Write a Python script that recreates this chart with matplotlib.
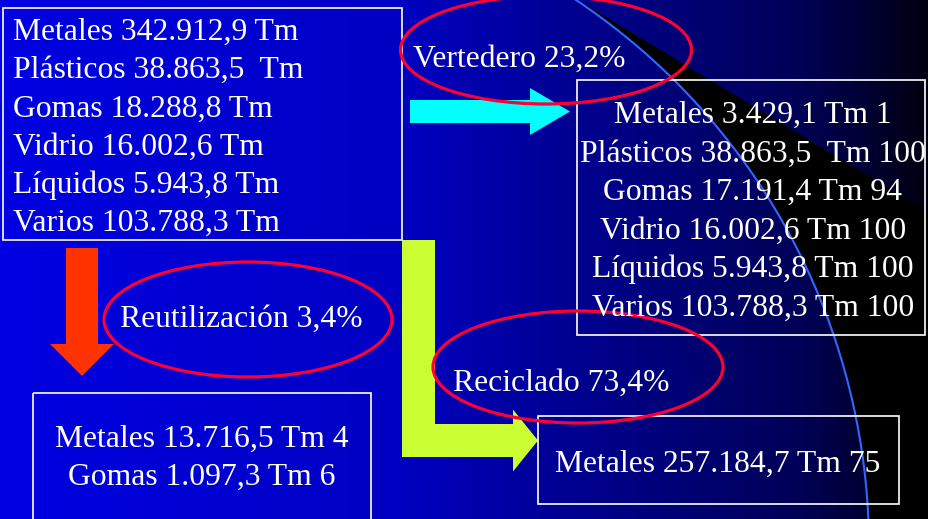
import numpy as np
import matplotlib
matplotlib.use("Agg")
import matplotlib.pyplot as plt
from matplotlib import patches

# toneladas por material
materials = ["Metales", "Plásticos", "Gomas", "Vidrio", "Líquidos", "Varios"]
total_tm = [342912.9, 38863.5, 18288.8, 16002.6, 5943.8, 103788.3]

vert_tm = [3429.1, 38863.5, 17191.4, 16002.6, 5943.8, 103788.3]
vert_pct = [1, 100, 94, 100, 100, 100]

reut_materials = ["Metales", "Gomas"]
reut_tm = [13716.5, 1097.3]
reut_pct = [4, 6]

recic_materials = ["Metales"]
recic_tm = [257184.7]
recic_pct = [75]

dest_labels = ["Vertedero", "Reutilización", "Reciclado"]
dest_share = [23.2, 3.4, 73.4]

W, H = 929, 519
WHITE = "white"
RED = "#FF0033"
FONT = "Liberation Serif"
FS = 22.8


def es_num(v, dec=1):
    s = f"{v:,.{dec}f}"
    return s.replace(",", "X").replace(".", ",").replace("X", ".")


def tm_text(name, v):
    gap = "  " if name == "Plásticos" else " "
    return f"{name} {es_num(v)}{gap}Tm"


fig = plt.figure(figsize=(W / 100, H / 100), dpi=100)
ax = fig.add_axes([0, 0, 1, 1])
ax.set_xlim(0, W)
ax.set_ylim(H, 0)
ax.axis("off")

# background: blue gradient plus black area outside the big arc
xx, yy = np.meshgrid(np.arange(W) + 0.5, np.arange(H) + 0.5)
blue = np.interp(xx, [0, 400, 560, 800, 929], [0.89, 0.76, 0.58, 0.34, 0.06])
img = np.zeros((H, W, 3))
img[..., 2] = blue
cx, cy, r = 210, 548, 659
outside = (xx - cx) ** 2 + (yy - cy) ** 2 > r ** 2
below = yy > (xx - 578) / 1.65
img[outside & below] = 0
ax.imshow(img, extent=[0, W, H, 0], aspect="auto", zorder=0)
ax.add_patch(patches.Circle((cx, cy), r, fill=False, edgecolor="#3366FF", lw=1.5, zorder=1))

# boxes
boxes = [(3, 8, 399, 232), (577, 80, 348, 255), (33, 393, 338, 140), (538, 416, 361, 88)]
for x0, y0, w, h in boxes:
    ax.add_patch(patches.Rectangle((x0, y0), w, h, fill=False, edgecolor=WHITE, lw=1.2, zorder=3))

# arrows
ax.add_patch(patches.FancyArrow(410, 111.5, 160, 0, width=23, head_width=47, head_length=40,
                                length_includes_head=True, color="#00FFFF", lw=0, zorder=2))
ax.add_patch(patches.FancyArrow(82, 248, 0, 128, width=32, head_width=64, head_length=32,
                                length_includes_head=True, color="#FF3300", lw=0, zorder=2))
ax.add_patch(patches.Rectangle((402, 240), 33, 217, color="#CCFF33", lw=0, zorder=2))
ax.add_patch(patches.FancyArrow(402, 440.5, 136, 0, width=33, head_width=62, head_length=25,
                                length_includes_head=True, color="#CCFF33", lw=0, zorder=2))

# ellipses
ellipses = [(546, 50, 291, 108), (248, 319.5, 288, 115), (578, 367, 290, 112)]
for ex, ey, ew, eh in ellipses:
    ax.add_patch(patches.Ellipse((ex, ey), ew, eh, fill=False, edgecolor=RED, lw=2.3, zorder=4))

txt = dict(color=WHITE, family=FONT, fontsize=FS, va="baseline", zorder=5)

# source box
for i, (m, v) in enumerate(zip(materials, total_tm)):
    ax.text(13, 40 + i * 38.2, tm_text(m, v), ha="left", **txt)

# vertedero box
for i, (m, v, p) in enumerate(zip(materials, vert_tm, vert_pct)):
    ax.text(753, 123 + i * 38.5, f"{tm_text(m, v)} {p}", ha="center", **txt)

# reutilizacion box
for i, (m, v, p) in enumerate(zip(reut_materials, reut_tm, reut_pct)):
    ax.text(202, 447 + i * 38, f"{tm_text(m, v)} {p}", ha="center", **txt)

# reciclado box
for i, (m, v, p) in enumerate(zip(recic_materials, recic_tm, recic_pct)):
    ax.text(718, 471.5 + i * 38, f"{tm_text(m, v)} {p}", ha="center", **txt)

# destination labels
label_pos = [(413, 66.7), (120, 327), (453, 390.7)]
for (lx, ly), lab, s in zip(label_pos, dest_labels, dest_share):
    ax.text(lx, ly, f"{lab} {es_num(s)}%", ha="left", **txt)

fig.savefig("out.png", dpi=100)
